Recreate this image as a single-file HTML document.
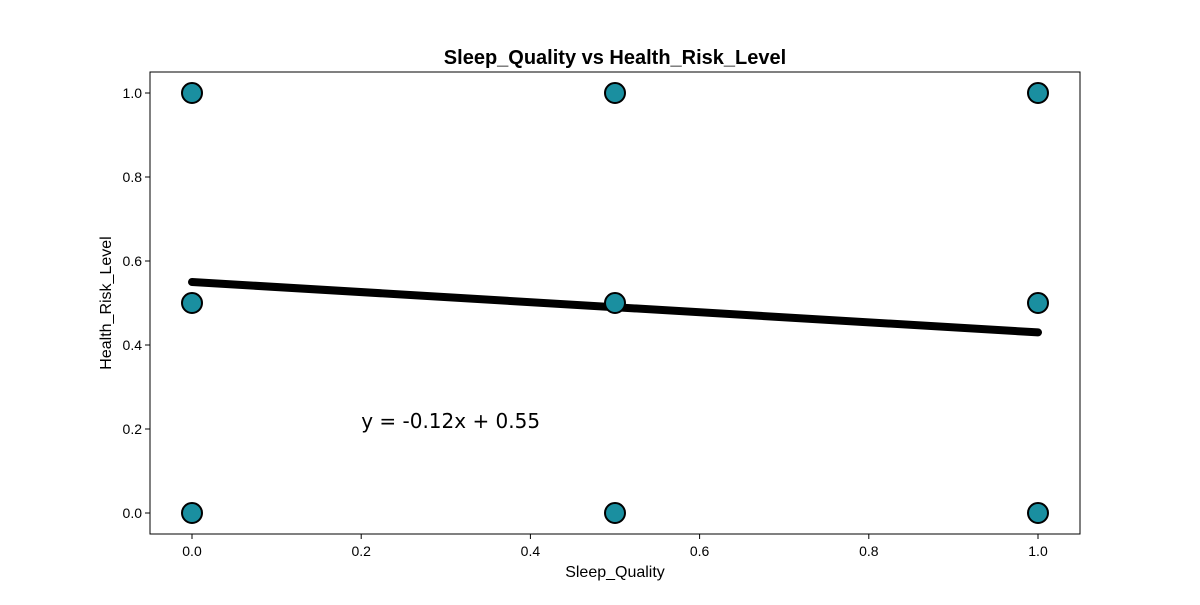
<!DOCTYPE html>
<html><head><meta charset="utf-8"><style>
body{margin:0;background:#fff;}
svg{font-family:"Liberation Sans",sans-serif;}
</style></head><body>
<svg id="chart" width="1200" height="600"></svg>
<script>
const xs=[0,0,0,0.5,0.5,0.5,1,1,1];
const ys=[1,0.5,0,1,0.5,0,1,0.5,0];
const slope=-0.12, intercept=0.55;
const xTicks=[0,0.2,0.4,0.6,0.8,1.0];
const yTicks=[0,0.2,0.4,0.6,0.8,1.0];
const NS="http://www.w3.org/2000/svg";
const svg=document.getElementById('chart');
const L=150,R=1080,T=72,B=534;
const X=v=>192+v*846, Y=v=>513-v*420;
function mk(t,a,p){const e=document.createElementNS(NS,t);for(const k in a)e.setAttribute(k,a[k]);(p||svg).appendChild(e);return e;}
const title=mk('text',{x:615,y:64,'text-anchor':'middle','font-size':20,'font-weight':'bold'});title.textContent='Sleep_Quality vs Health_Risk_Level';


xTicks.forEach(t=>{
 const l=mk('line',{x1:X(t),x2:X(t),y1:B,y2:B+5,stroke:'#000'});
 
 
 const tx=mk('text',{x:X(t),y:B+22,'text-anchor':'middle','font-size':14});tx.textContent=t.toFixed(1);
 
 
});
yTicks.forEach(t=>{
 const l=mk('line',{x1:L-5,x2:L,y1:Y(t),y2:Y(t),stroke:'#000'});
 
 
 const tx=mk('text',{x:L-8,y:Y(t)+5,'text-anchor':'end','font-size':14});tx.textContent=t.toFixed(1);
 
 
});
const xl=mk('text',{x:615,y:577,'text-anchor':'middle','font-size':16});xl.textContent='Sleep_Quality';


const yl=mk('text',{x:111,y:303,'text-anchor':'middle','font-size':16,transform:'rotate(-90 111 303)'});yl.textContent='Health_Risk_Level';


const reg=mk('line',{x1:X(0),y1:Y(intercept),x2:X(1),y2:Y(slope+intercept),stroke:'#000','stroke-width':8,'stroke-linecap':'round'});


xs.forEach((x,i)=>{
 const c=mk('circle',{cx:X(x),cy:Y(ys[i]),r:10,fill:'#1a8fa0',stroke:'#000','stroke-width':2});
 
 
});
const eq=mk('text',{x:X(0.2),y:Y(0.2)-1,'font-size':20,'font-family':'"DejaVu Sans",sans-serif'});eq.textContent='y = '+slope.toFixed(2)+'x + '+intercept.toFixed(2);


const fr=mk('rect',{x:L,y:T,width:R-L,height:B-T,fill:'none',stroke:'#000','stroke-width':1});


</script>
</body></html>
